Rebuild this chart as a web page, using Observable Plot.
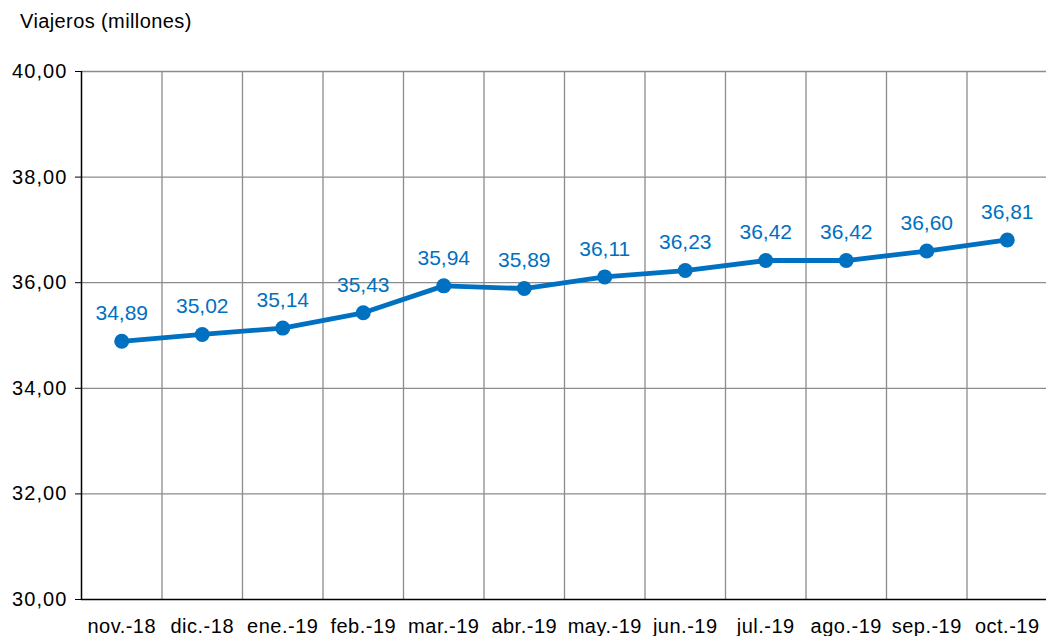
<!DOCTYPE html>
<html><head><meta charset="utf-8">
<script src="https://cdn.jsdelivr.net/npm/d3@7"></script>
<script src="https://cdn.jsdelivr.net/npm/@observablehq/plot@0.6"></script>
<style>
body{margin:0;background:#fff;font-family:"Liberation Sans",Arial,sans-serif;}
#title{height:50px;position:relative;}
#title span{position:absolute;left:20px;top:10px;font-size:20px;letter-spacing:0.4px;color:#000;}
svg{display:block;}
svg [aria-label="x-axis tick label"] text{letter-spacing:0.5px;}
svg [aria-label="y-axis tick label"] text{letter-spacing:1.1px;}
</style></head>
<body>
<div id="title"><span>Viajeros (millones)</span></div>
<div id="chart"></div>
<script>
const months = ["nov.-18","dic.-18","ene.-19","feb.-19","mar.-19","abr.-19","may.-19","jun.-19","jul.-19","ago.-19","sep.-19","oct.-19"];
const viajeros = [34.89,35.02,35.14,35.43,35.94,35.89,36.11,36.23,36.42,36.42,36.60,36.81];
const yTicks = [30,32,34,36,38,40];

const data = months.map((m,i)=>({m, v: viajeros[i]}));
const fmt = v => v.toFixed(2).replace(".", ",");
const W = 1046, ML = 81, MR = -1;
const bw = (W - ML - MR) / months.length;
const blue = "#0070C0";

const chart = Plot.plot({
  width: W, height: 586,
  marginTop: 21, marginBottom: 37, marginLeft: ML, marginRight: MR,
  style: {fontFamily: "'Liberation Sans', Arial, sans-serif", fontSize: "20px", color: "#000", background: "#fff", overflow: "visible"},
  x: {type: "band", domain: months, padding: 0, round: false, label: null},
  y: {domain: [30, 40], label: null},
  marks: [
    Plot.ruleY(yTicks.filter(t=>t>30), {y: d=>d, stroke: "#8c8c8c", strokeWidth: 1.3, strokeOpacity: 1}),
    Plot.ruleX(months.slice(1), {x: d=>d, dx: -bw/2, stroke: "#8c8c8c", strokeWidth: 1.3}),
    Plot.axisY({ticks: yTicks, tickFormat: fmt, tickSize: 6, tickPadding: 8, fontSize: 20, stroke: "#000"}),
    Plot.axisX({tickSize: 0, tickPadding: 19, fontSize: 20}),
    Plot.ruleX([0], {x: () => months[0], dx: -bw/2, y1: 30, y2: 40, stroke: "#000", strokeWidth: 1.5}),
    Plot.ruleY([30], {stroke: "#000", strokeWidth: 1.5}),
    Plot.line(data, {x: "m", y: "v", stroke: blue, strokeWidth: 4.8}),
    Plot.dot(data, {x: "m", y: "v", fill: blue, r: 7.5}),
    Plot.text(data, {x: "m", y: "v", text: d=>fmt(d.v), dy: -28, fill: blue, fontSize: 21, style: "letter-spacing:0.5px"})
  ]
});
document.getElementById("chart").appendChild(chart);
</script>
</body></html>
